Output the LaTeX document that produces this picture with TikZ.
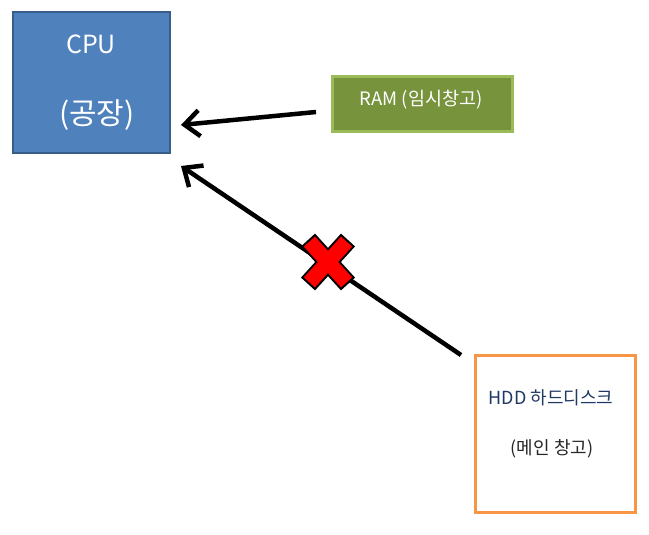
\documentclass[tikz,border=0pt]{standalone}
\usepackage{fontspec}
\setmainfont{Noto Sans CJK KR}
\usetikzlibrary{arrows.meta}
\definecolor{cpufill}{HTML}{4F81BD}
\definecolor{cpuline}{HTML}{385D8A}
\definecolor{ramfill}{HTML}{77933C}
\definecolor{ramline}{HTML}{9BBB59}
\definecolor{hddline}{HTML}{F79646}
\definecolor{hddtext}{HTML}{1F3864}
\tikzset{
  box/.style={draw, rectangle, inner sep=0pt, anchor=north west},
  conn/.style={line width=4.5pt, -{Straight Barb[length=15pt, width=26pt, line width=4.5pt]}},
}
\begin{document}
\begin{tikzpicture}[x=1pt,y=-1pt]
\useasboundingbox (0,0) rectangle (649,535);
\node[box, fill=cpufill, draw=cpuline, line width=2pt, minimum width=157pt, minimum height=141pt] (cpu) at (12,11) {};
\node[text=white, font=\fontsize{25}{30}\selectfont] (cputxt) at (91,44) {CPU};
\node[text=white, font=\fontsize{30}{34}\selectfont] (cpusub) at (97,115) {(공장)};
\node[box, fill=ramfill, draw=ramline, line width=3pt, minimum width=180pt, minimum height=55pt] (ram) at (331,75) {};
\node[text=white, font=\fontsize{18.5}{22}\selectfont] (ramtxt) at (421,100) {RAM (임시창고)};
\node[box, fill=white, draw=hddline, line width=3pt, minimum width=160pt, minimum height=157pt] (hdd) at (474,354) {};
\node[text=hddtext, font=\fontsize{18}{22}\selectfont] (hddtxt) at (551,398) {HDD 하드디스크};
\node[text=black!85, font=\fontsize{18}{22}\selectfont] (hddsub) at (552,449) {(메인 창고)};
\coordinate (a1s) at (316,112);
\coordinate (a1e) at (181,125);
\coordinate (a2s) at (461,355);
\coordinate (a2e) at (181,166);
\draw[conn] (a1s) -- (a1e);
\draw[conn] (a2s) -- (a2e);
\begin{scope}[shift={(328,262)}]
  \draw[line width=19pt, black, line cap=butt] (-20,-22) -- (20,22) (20,-22) -- (-20,22);
  \draw[line width=15pt, red, line cap=butt] (-18.6,-20.4) -- (18.6,20.4) (18.6,-20.4) -- (-18.6,20.4);
\end{scope}
\end{tikzpicture}
\end{document}
